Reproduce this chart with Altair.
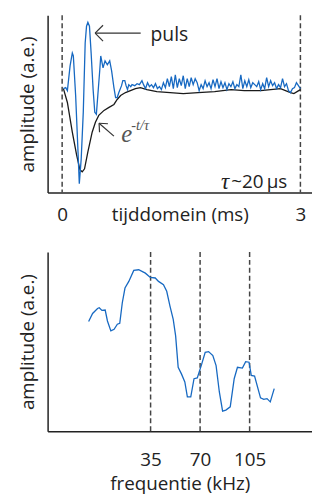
import altair as alt
import pandas as pd

# ---------------- data ----------------
# time domain: pulse signal (blue)
pulse_t = [0.016, 0.045, 0.066, 0.10, 0.128, 0.141, 0.17, 0.20, 0.216, 0.24,
           0.266, 0.29, 0.307, 0.324, 0.344, 0.365, 0.39, 0.411, 0.431, 0.449,
           0.474, 0.486, 0.515, 0.54, 0.569, 0.599, 0.623, 0.652, 0.673, 0.693,
           0.714, 0.748, 0.764, 0.789, 0.805, 0.823, 0.839, 0.864, 0.88, 0.914,
           0.943, 0.973, 1.005,
           1.025, 1.05, 1.075, 1.1, 1.125, 1.15, 1.175, 1.2, 1.225, 1.25,
           1.275, 1.3, 1.325, 1.35, 1.375, 1.4, 1.425, 1.45, 1.475, 1.5,
           1.525, 1.55, 1.575, 1.6, 1.625, 1.65, 1.675, 1.7, 1.725, 1.75,
           1.775, 1.8, 1.825, 1.85, 1.875, 1.9, 1.925, 1.95, 1.975, 2.0,
           2.025, 2.05, 2.075, 2.1, 2.125, 2.15, 2.175, 2.2, 2.225, 2.25,
           2.275, 2.3, 2.325, 2.35, 2.375, 2.4, 2.425, 2.45, 2.475, 2.5,
           2.525, 2.55, 2.575, 2.6, 2.625, 2.65, 2.675, 2.7, 2.725, 2.75,
           2.775, 2.8, 2.825, 2.85, 2.875, 2.9, 2.925, 2.95, 2.975, 3.0]
pulse_a = [0.2, 0.3, 0.0, 2.5, 3.8, 3.5, -0.5, -6.2, -9.4, -6.9,
           -2.2, 4.8, 6.5, 6.9, 6.5, 3.8, 0.1, -2.2, -2.4, -0.5,
           2.1, 3.5, 2.3, 3.0, 2.6, 3.0, 2.0, 0.3, -0.7, -0.7,
           -0.2, 0.5, 1.0, 1.0, 0.5, 0.1, 0.6, 0.4, 0.6, 0.5,
           0.7, 0.6, 1.0,
           0.6, 0.2, 0.8, 0.4, 0.6, 0.3, 0.7, 0.2, 0.4, 0.1,
           0.8, 0.3, 1.2, 0.4, 1.4, 0.2, 1.6, 0.3, 1.2, 0.5,
           1.5, 0.2, 1.2, 0.4, 1.3, 0.6, 1.2, 0.8, 0.0, 0.6,
           0.2, 1.0, 0.4, 0.8, 0.2, 1.1, 0.4, 1.2, 0.2, 0.9,
           0.3, 0.8, 0.1, 0.7, 0.4, 0.9, 0.2, 0.6, 0.4, 1.6,
           0.2, 1.0, 0.4, 1.1, 0.3, 0.8, 0.6, 0.4, 0.9, 0.1,
           0.7, 0.2, 1.3, 0.4, 1.0, 0.5, 0.8, 0.2, 0.6, 0.3,
           1.2, 0.4, 0.7, 0.0, -0.2, 0.2, 0.3, 0.8, 0.5, 0.2]

# time domain: exponential envelope (black)
decay_t = [0.016, 0.066, 0.128, 0.182, 0.224, 0.253, 0.282, 0.324, 0.378, 0.419,
           0.461, 0.527, 0.59, 0.652, 0.693, 0.736, 0.798, 0.86, 0.923, 0.985,
           1.067, 1.192, 1.359, 1.525, 1.712, 1.92, 2.127, 2.294, 2.5, 2.75,
           2.875, 2.918, 3.0]
decay_a = [0.2, -1.2, -4.2, -6.5, -8.0, -8.2, -7.9, -6.2, -4.2, -3.2,
           -2.5, -2.0, -1.7, -1.4, -0.9, -0.5, -0.2, 0.0, 0.2, 0.3,
           0.1, -0.1, -0.2, -0.3, -0.2, -0.1, 0.1, 0.0, 0.0, 0.2,
           -0.2, -0.3, 0.1]

# frequency domain spectrum (blue)
freq_khz = [-8.8, -6.0, -2.5, -1.3, 0.6, 2.9, 4.5, 6.9, 9.2, 11.5,
            13.2, 15.0, 16.9, 19.6, 23.1, 26.6, 31.3, 34.8, 38.3, 40.6,
            44.1, 46.4, 48.7, 51.0, 52.7, 54.5, 56.8, 59.2, 61.0, 63.4,
            65.7, 68.0, 70.8, 73.6, 76.0, 79.0, 81.3, 83.6, 85.9, 88.2,
            91.3, 94.1, 96.4, 99.9, 102.2, 104.6, 106.2, 108.5, 112.7, 115.0,
            117.3, 119.6, 122.4]
spec_amp = [61.2, 65.7, 68.5, 68.9, 67.4, 67.6, 61.5, 56.0, 56.9, 59.7,
            60.2, 71.7, 79.9, 83.6, 89.7, 90.1, 88.2, 85.8, 85.5, 83.6,
            81.8, 78.1, 69.8, 62.4, 53.2, 35.7, 32.0, 27.5, 19.2, 19.2,
            29.3, 29.7, 36.6, 44.0, 44.4, 42.2, 36.6, 21.9, 11.2, 11.8,
            13.6, 29.3, 35.7, 35.2, 38.8, 38.5, 31.1, 30.8, 18.6, 17.8,
            18.2, 16.4, 23.8]

time_marks = [0, 3]
freq_marks = [35, 70, 105]

# ---------------- annotation anchors (data units) ----------------
arrow_t = [0.415, 0.415, 0.415, 0.465, 0.465, 0.465]
arrow_a = [5.8, 5.8, 5.8, -3.3, -3.3, -3.3]
arrow_t2 = [0.989, 0.515, 0.515, 0.652, 0.577, 0.471]
arrow_a2 = [5.8, 6.6, 5.0, -4.6, -3.35, -4.2]

BLUE = "#1769c2"
DARK = "#222222"
FONT = "Open Sans"
FS = 19

df_pulse = pd.DataFrame({"t": pulse_t, "a": pulse_a})
df_decay = pd.DataFrame({"t": decay_t, "a": decay_a})
df_vt = pd.DataFrame({"t": time_marks})
df_arrow = pd.DataFrame({"t": arrow_t, "a": arrow_a, "t2": arrow_t2, "a2": arrow_a2})
df_spec = pd.DataFrame({"f": freq_khz, "a": spec_amp})
df_vf = pd.DataFrame({"f": freq_marks})

xt_scale = alt.Scale(domain=[-0.183, 3.146], nice=False, zero=False)
yt_scale = alt.Scale(domain=[-10.3, 7.6], nice=False, zero=False)
xt_axis = alt.Axis(values=time_marks, title="tijddomein (ms)", format="d",
                   labelAngle=0, labelPadding=13, titleY=13, titleBaseline="top")
y_axis = alt.Axis(title="amplitude (a.e.)", labels=False, ticks=False, titlePadding=10)

XT = alt.X("t:Q", scale=xt_scale, axis=xt_axis)
YT = alt.Y("a:Q", scale=yt_scale, axis=y_axis)

vt = alt.Chart(df_vt).mark_rule(strokeDash=[5, 3], color="#444", strokeWidth=1.5).encode(x=XT)
decay = alt.Chart(df_decay).mark_line(color="#1a1a1a", strokeWidth=1.3).encode(x=XT, y=YT)
pulse = alt.Chart(df_pulse).mark_line(color=BLUE, strokeWidth=1.3).encode(x=XT, y=YT)
arrows = alt.Chart(df_arrow).mark_rule(color="#333", strokeWidth=1.2).encode(
    x=XT, y=YT, x2="t2:Q", y2="a2:Q")

df_txt = pd.DataFrame({"t": [1.113], "a": [5.6], "s": ["puls"]})
puls_txt = alt.Chart(df_txt).mark_text(align="left", baseline="middle", font=FONT,
                                       fontSize=19.5, color=DARK).encode(x=XT, y=YT, text="s:N")
df_e = pd.DataFrame({"t": [0.745], "a": [-4.4], "s": ["e"]})
e_txt = alt.Chart(df_e).mark_text(align="left", baseline="middle", font="Liberation Serif",
                                  fontStyle="italic", fontSize=25, color="#555").encode(x=XT, y=YT, text="s:N")
df_ex = pd.DataFrame({"t": [0.87], "a": [-3.6], "s": ["-t/τ"]})
ex_txt = alt.Chart(df_ex).mark_text(align="left", baseline="middle", font="Liberation Serif",
                                    fontStyle="italic", fontSize=14.5, color="#555").encode(x=XT, y=YT, text="s:N")
df_tau = pd.DataFrame({"t": [2.0], "a": [-9.2], "s": ["τ"]})
tau_txt = alt.Chart(df_tau).mark_text(align="left", baseline="middle", font="Liberation Serif",
                                      fontStyle="italic", fontSize=23, color=DARK).encode(x=XT, y=YT, text="s:N")
df_us = pd.DataFrame({"t": [2.13], "a": [-9.2], "s": ["~20\u2009μs"]})
us_txt = alt.Chart(df_us).mark_text(align="left", baseline="middle", font=FONT,
                                    fontSize=FS, color=DARK).encode(x=XT, y=YT, text="s:N")

top = alt.layer(vt, decay, pulse, arrows, puls_txt, e_txt, ex_txt, tau_txt, us_txt).properties(
    width=267, height=179)

xf_scale = alt.Scale(domain=[-37.8, 149.1], nice=False, zero=False)
yf_scale = alt.Scale(domain=[0, 100], nice=False, zero=False)
xf_axis = alt.Axis(values=freq_marks, title="frequentie (kHz)", format="d",
                   labelAngle=0, labelPadding=20, titlePadding=5)
XF = alt.X("f:Q", scale=xf_scale, axis=xf_axis)
YF = alt.Y("a:Q", scale=yf_scale, axis=y_axis)

vf = alt.Chart(df_vf).mark_rule(strokeDash=[5, 3], color="#444", strokeWidth=1.5).encode(x=XF)
spec = alt.Chart(df_spec).mark_line(color=BLUE, strokeWidth=1.3).encode(x=XF, y=YF)
bottom = alt.layer(vf, spec).properties(width=267, height=181)

chart = alt.vconcat(top, bottom, spacing=27).properties(
    padding={"left": 11, "top": 4, "right": 0, "bottom": 0}
).configure_view(stroke=None).configure_axis(
    grid=False, ticks=False, domainColor=DARK, domainWidth=1.5,
    labelFont=FONT, labelFontSize=FS, labelColor=DARK,
    titleFont=FONT, titleFontSize=FS, titleColor=DARK, titleFontWeight="normal"
)

chart.save("out.html", embed_options={"renderer": "svg", "actions": False})
